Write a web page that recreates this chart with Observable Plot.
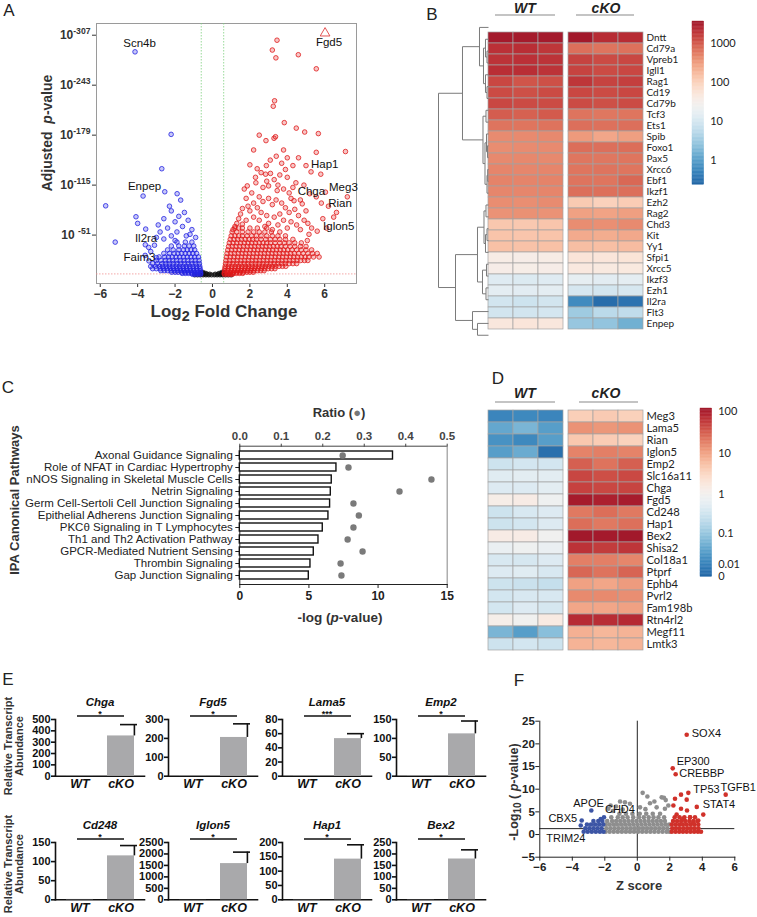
<!DOCTYPE html>
<html><head><meta charset="utf-8">
<script src="https://cdn.jsdelivr.net/npm/d3@7"></script>
<script src="https://cdn.jsdelivr.net/npm/@observablehq/plot@0.6"></script>
<style>
body{margin:0;background:#fff;}
#root{position:relative;width:757px;height:917px;overflow:hidden;font-family:"Liberation Sans",Arial,sans-serif;color:#222;background:#fff;}
.lbl{position:absolute;white-space:nowrap;line-height:1;}
.eplot line,.eplot path{stroke-width:1.6px;}
</style></head><body><div id="root"></div>
<script>
// ================= DATA =================
// Panel A: volcano plot (x = log2 fold change, y = -log10 adjusted p)
const volcanoXTicks = [-6,-4,-2,0,2,4,6];
const volcanoYTicks = [51,115,179,243,307];
const volcanoUpRows = [
 [0.8,[0.64,0.8,0.95,1.07]],
 [2,[0.63,0.78,0.93,1.1,1.28,1.45,1.62]],
 [3.5,[0.64,0.8,0.96,1.14,1.3,1.48,1.66,1.84,2.0,2.18]],
 [5.5,[0.65,0.82,1.0,1.17,1.35,1.52,1.7,1.88,2.05,2.22,2.4,2.58,2.76]],
 [8,[0.66,0.84,1.02,1.2,1.38,1.55,1.73,1.9,2.08,2.26,2.44,2.62,2.8,2.98,3.16,3.34]],
 [11,[0.68,0.86,1.04,1.22,1.4,1.58,1.76,1.94,2.12,2.3,2.48,2.66,2.84,3.02,3.2,3.38,3.56,3.74,3.92]],
 [14.5,[0.7,0.9,1.1,1.3,1.5,1.7,1.9,2.1,2.3,2.5,2.7,2.9,3.1,3.3,3.5,3.7,3.9,4.1,4.3,4.5]],
 [18.5,[0.72,0.92,1.12,1.32,1.52,1.72,1.92,2.12,2.32,2.52,2.72,2.92,3.12,3.32,3.52,3.72,3.92,4.12,4.32,4.52,4.72,4.92,5.1]],
 [23,[0.75,0.95,1.15,1.35,1.55,1.75,1.95,2.15,2.35,2.55,2.75,2.95,3.15,3.35,3.55,3.75,3.95,4.15,4.35,4.55,4.75,4.95,5.15,5.4,5.7]],
 [27.5,[0.78,0.98,1.18,1.38,1.58,1.78,1.98,2.18,2.38,2.58,2.78,2.98,3.18,3.38,3.58,3.78,3.98,4.18,4.38,4.6,4.85,5.1,5.35,5.6]],
 [32,[0.82,1.02,1.22,1.42,1.62,1.82,2.02,2.22,2.42,2.62,2.82,3.02,3.22,3.42,3.62,3.82,4.02,4.25,4.5,4.75,5.0,5.3]],
 [36.5,[0.86,1.06,1.26,1.46,1.66,1.86,2.06,2.26,2.46,2.66,2.86,3.06,3.26,3.46,3.66,3.9,4.15,4.4,4.7,5.0]],
 [41,[0.9,1.1,1.3,1.5,1.7,1.9,2.1,2.3,2.5,2.7,2.9,3.1,3.35,3.6,3.85,4.1,4.4,4.75]],
 [45.5,[0.95,1.15,1.35,1.55,1.75,1.95,2.15,2.35,2.6,2.85,3.1,3.35,3.6,3.9,4.3]],
 [50,[1.0,1.2,1.4,1.6,1.85,2.1,2.35,2.6,2.9,3.2,3.5,3.9]],
 [55,[1.05,1.3,1.6,1.9,2.2,2.5,2.8,3.15,3.6]],
 [60,[1.2,1.6,2.0,2.4,2.9]]
];
const volcanoUpScatter = [[3.45,300.6],[3.2,288],[4.59,282],[3.39,278],[5.55,264],[3.32,223],[3.25,216],[3.84,195],[4.48,188],[4.93,183],[5.66,181],[2.5,179],[3.37,177],[3.29,175],[2.86,172],[5.55,157],[7.11,158],[3.41,152],[3.09,147],[3.7,143],[2.0,141],[2.88,140],[2.39,136],[5.27,132],[5.79,129],[2.84,129],[4.0,125],[2.32,118],[1.86,114],[4.89,115],[4.46,118],[3.0,114],[3.46,108],[6.04,106],[7.21,100],[5.55,100],[4.36,95],[4.8,91],[5.82,92],[6.63,80],[6.48,74],[5.16,52],[5.07,44],
 [1.7,110],[1.8,98],[2.1,105],[2.3,125],[2.6,131],[2.7,112],[2.9,120],[3.1,130],[3.3,122],[3.5,115],[3.6,128],[3.8,110],[4.1,105],[4.3,112],[4.2,98],[2.5,100],[2.2,92],[1.9,88],[1.6,85],[1.5,78],[1.4,72],[1.3,66],[1.2,62],[2.0,82],[2.4,86],[2.7,94],[3.0,98],[3.2,90],[3.4,96],[3.7,92],[3.9,86],[4.1,80],[4.4,84],[4.6,76],[4.9,70],[5.1,66],[5.3,60],[5.6,56],[2.6,80],[2.9,76],[3.3,74],[3.6,78],[3.8,70],[4.2,68],[4.5,64],[4.7,58],[2.2,74],[1.8,70],[1.6,65],[2.5,70],[3.0,66],[3.5,64],[4.0,60],[1.1,58],[1.4,60],[2.8,62],[3.2,58],[6.2,88],[5.9,72],[6.1,60],[5.0,82],[4.7,96],[5.2,104],[3.9,135],[4.3,140],[2.2,160],[3.8,160],[4.6,150],[5.0,140],[4.0,150]];
const volcanoDownRows = [
 [0.8,[-1.07,-0.95,-0.8,-0.64]],
 [2,[-1.62,-1.45,-1.28,-1.1,-0.93,-0.78,-0.63]],
 [3.5,[-2.18,-2.0,-1.84,-1.66,-1.48,-1.3,-1.14,-0.96,-0.8,-0.64]],
 [5.5,[-2.76,-2.58,-2.4,-2.22,-2.05,-1.88,-1.7,-1.52,-1.35,-1.17,-1.0,-0.82,-0.65]],
 [8,[-3.2,-3.0,-2.8,-2.62,-2.44,-2.26,-2.08,-1.9,-1.73,-1.55,-1.38,-1.2,-1.02,-0.84,-0.66]],
 [11,[-3.3,-3.05,-2.84,-2.66,-2.48,-2.3,-2.12,-1.94,-1.76,-1.58,-1.4,-1.22,-1.04,-0.86,-0.68]],
 [14.5,[-3.2,-2.95,-2.7,-2.5,-2.3,-2.1,-1.9,-1.7,-1.5,-1.3,-1.1,-0.9,-0.7]],
 [18.5,[-3.0,-2.75,-2.52,-2.32,-2.12,-1.92,-1.72,-1.52,-1.32,-1.12,-0.92,-0.72]],
 [23,[-2.85,-2.55,-2.35,-2.15,-1.95,-1.75,-1.55,-1.35,-1.15,-0.95,-0.75]],
 [27.5,[-2.6,-2.3,-2.05,-1.85,-1.65,-1.45,-1.25,-1.05,-0.85]],
 [32,[-2.4,-2.1,-1.8,-1.55,-1.35,-1.15,-0.95]],
 [37,[-2.2,-1.8,-1.5,-1.25,-1.0]],
 [42,[-1.9,-1.45,-1.1]]
];
const volcanoDownScatter = [[-4.14,285.7],[-2.21,180],[-2.71,136],[-3.71,101],[-2.55,106.5],[-1.89,104],[-1.7,95.8],[-5.71,88.5],[-4.09,74.5],[-4.0,66],[-3.57,58.7],[-5.2,42],[-3.59,38.6],[-3.41,35.2],[-2.3,88],[-2.2,82],[-1.5,80],[-1.8,75],[-2.6,72],[-2.9,64],[-1.3,70],[-2.0,68],[-1.6,62],[-2.4,60],[-1.1,58],[-2.8,55],[-1.9,55],[-3.0,48],[-1.4,50],[-2.2,50],[-2.6,46],[-3.3,30],[-3.6,25],[-3.1,38],[-1.2,52],[-0.9,48],[-2.0,44],[-3.0,22],[-3.4,18]];
const volcanoNsRows = [
 [0,[-0.95,-0.8,-0.65,-0.5,-0.35,-0.2,-0.05,0.1,0.25,0.4,0.55,0.7,0.85,1.0]],
 [1,[-0.6,-0.45,-0.3,-0.15,0.15,0.3,0.45,0.6]],
 [2,[-0.6,-0.48,-0.36,0.36,0.48,0.6]],
 [3.2,[-0.6,-0.5,0.5,0.6]]
];
const volcanoTop = [[6.02,309.6]];
const volcanoLabels = [["Scn4b",-3.9,297],["Fgd5",6.23,298],["Hap1",6.0,141.4],["Chga",5.29,107.7],["Meg3",7.0,112.8],["Rian",6.82,91.4],["Iglon5",6.75,62.5],["Enpep",-3.63,113.2],["Il2ra",-3.55,47.2],["Faim3",-3.9,22]];

// Panel B: heatmap (WT x3, cKO x3)
const genesB = ["Dntt","Cd79a","Vpreb1","Igll1","Rag1","Cd19","Cd79b","Tcf3","Ets1","Spib","Foxo1","Pax5","Xrcc6","Ebf1","Ikzf1","Ezh2","Rag2","Chd3","Kit","Yy1","Sfpi1","Xrcc5","Ikzf3","Ezh1","Il2ra","Flt3","Enpep"];
const exprB_WT = [[3500,3400,3500],[2100,2200,1900],[2000,2100,2000],[2200,2200,2000],[1400,1100,1200],[1300,1200,1300],[1400,1300,1300],[950,900,1000],[650,640,660],[430,440,450],[420,430,440],[450,460,450],[480,470,480],[500,490,500],[470,470,480],[420,410,430],[380,390,380],[130,125,135],[140,135,140],[150,145,150],[38,36,38],[36,35,36],[13,12,13],[15,14,15],[9,8,9],[9,9,9.5],[48,52,48]];
const exprB_KO = [[3600,2300,2300],[700,650,680],[1500,1300,1400],[1500,1300,1400],[1900,1500,1600],[1400,1300,1400],[1300,1200,1300],[650,620,640],[700,680,700],[330,260,300],[720,700,720],[630,620,640],[640,650,640],[650,640,800],[700,690,700],[120,100,115],[290,280,300],[420,400,440],[240,230,250],[160,155,165],[55,52,56],[46,44,45],[16,14,15],[10,9,10],[0.6,0.28,0.33],[3.2,5.5,6],[2.8,2.6,1.5]];
const legendB_Ticks = [1,10,100,1000];
// dendrogram: [height, left, right]
const dendroB = [50,
  [26,
    [9,"Dntt",[5,[3,"Cd79a",[1.5,"Vpreb1","Igll1"]],[3,"Rag1",[1.5,"Cd19","Cd79b"]]]],
    [5.5,[2.5,"Tcf3","Ets1"],[3.5,[2,"Spib",[1,"Foxo1","Pax5"]],[1.5,[0.8,"Xrcc6","Ebf1"],"Ikzf1"]]]],
  [33,
    [11,[4.5,[2.5,"Ezh2","Rag2"],[3,[1.5,"Chd3","Kit"],"Yy1"]],[6,[2,"Sfpi1","Xrcc5"],[2.5,"Ikzf3","Ezh1"]]],
    [16,"Il2ra",[11,"Flt3","Enpep"]]]];

// Panel C: IPA canonical pathways
const pathways = ["Axonal Guidance Signaling","Role of NFAT in Cardiac Hypertrophy","nNOS Signaling in Skeletal Muscle Cells","Netrin Signaling","Germ Cell-Sertoli Cell Junction Signaling","Epithelial Adherens Junction Signaling","PKCθ Signaling in T Lymphocytes","Th1 and Th2 Activation Pathway","GPCR-Mediated Nutrient Sensing","Thrombin Signaling","Gap Junction Signaling"];
const pathwayNegLogP = [11.08,6.99,6.65,6.58,6.53,6.41,6.0,5.69,5.35,5.11,4.99];
const pathwayRatio = [0.248,0.262,0.462,0.385,0.274,0.287,0.274,0.26,0.296,0.243,0.245];
const pathwayPTicks = [0,5,10,15];
const pathwayRatioTicks = [0,0.1,0.2,0.3,0.4,0.5];

// Panel D: heatmap
const genesD = ["Meg3","Lama5","Rian","Iglon5","Emp2","Slc16a11","Chga","Fgd5","Cd248","Hap1","Bex2","Shisa2","Col18a1","Ptprf","Ephb4","Pvrl2","Fam198b","Rtn4rl2","Megf11","Lmtk3"];
const exprD_WT = [[0.012,0.014,0.012],[0.04,0.06,0.03],[0.02,0.014,0.03],[0.03,0.045,0.003],[0.3,0.35,0.35],[0.5,0.55,0.55],[0.45,0.45,0.55],[1.3,1.4,0.8],[0.3,0.4,0.45],[0.3,0.35,0.45],[1.4,1.4,0.9],[0.7,0.8,0.7],[0.4,0.38,0.45],[0.45,0.5,0.4],[0.3,0.28,0.25],[0.35,0.4,0.4],[0.35,0.45,0.38],[1.2,0.9,1.5],[0.06,0.03,0.08],[0.3,0.35,0.3]];
const exprD_KO = [[3.8,4.2,3.6],[13,12,13],[4.5,4,3.5],[17,18,17],[30,22,30],[46,40,44],[50,45,48],[107,95,105],[20,24,20],[24,20,23],[115,110,115],[66,55,62],[18,18,16],[27,22,28],[10,9,11],[15,15,14],[9,9,10],[75,72,78],[7.4,6.5,7],[7,6.5,7]];
const legendD_Ticks = [0,0.01,0.1,1,10,100];

// Panel E: qPCR bars
const eGenes = ["Chga","Fgd5","Lama5","Emp2","Cd248","Iglon5","Hap1","Bex2"];
const eWT = [1,1,0.4,0.8,1,5,0.8,1];
const eKO = [355,205,53,112,115,1580,142,178];
const eKOerr = [100,72,7,34,27,500,50,40];
const eSig = ["*","*","***","*","*","*","*","*"];
const eTicks = [[0,100,200,300,400,500],[0,100,200,300],[0,20,40,60,80],[0,50,100,150],[0,50,100,150],[0,500,1000,1500,2000,2500],[0,50,100,150,200],[0,50,100,150,200,250]];

// Panel F: upstream regulators
const fXTicks = [-6,-4,-2,0,2,4,6];
const fYTicks = [-5,0,5,10,15,20,25];
const fGrayRows = [
 [0.6,[-1.95,-1.7,-1.45,-1.2,-0.95,-0.7,-0.45,-0.2,0.05,0.3,0.55,0.8,1.05,1.3,1.55,1.8,1.98]],
 [1.4,[-1.9,-1.65,-1.4,-1.15,-0.9,-0.65,-0.4,-0.15,0.1,0.35,0.6,0.85,1.1,1.35,1.6,1.85]],
 [2.2,[-1.95,-1.72,-1.48,-1.25,-1.0,-0.75,-0.5,-0.25,0.0,0.25,0.5,0.75,1.0,1.25,1.5,1.75,1.97]],
 [3.0,[-1.85,-1.55,-1.3,-1.05,-0.8,-0.55,-0.3,-0.05,0.2,0.45,0.7,0.95,1.2,1.45,1.7]],
 [3.8,[-1.6,-1.2,-0.9,-0.6,-0.25,0.1,0.4,0.7,1.0,1.3,1.65]],
 [4.6,[-1.1,-0.7,-0.3,0.15,0.55,0.95,1.4]]
];
const fGrayScatter = [[0.33,9.2],[0.62,8.4],[-1.06,7.3],[-0.76,7.1],[-1.64,6.4],[1.5,8.2],[1.64,8.1],[1.05,7.3],[1.7,5.7],[0.78,6.9],[0.17,6.0],[-0.45,6.8],[-1.31,6.2],[-1.78,5.7],[1.19,6.0],[1.91,6.4],[-0.9,5.5],[0.5,5.6],[-1.5,5.2],[1.75,7.6]];
const fRedRows = [
 [0.6,[2.12,2.35,2.58,2.81,3.04,3.27,3.5,3.73,3.92]],
 [1.4,[2.15,2.38,2.61,2.84,3.07,3.3,3.53,3.76]],
 [2.2,[2.12,2.35,2.58,2.81,3.04,3.27,3.5,3.75]],
 [3.0,[2.2,2.45,2.7,2.95,3.2,3.45,3.7]],
 [3.8,[2.3,2.6,2.9,3.25,3.55]]
];
const fRedScatter = [[3.04,22.0],[2.18,14.6],[2.36,13.3],[3.14,9.2],[5.44,8.8],[3.66,6.1],[2.32,7.9],[2.69,8.8],[3.04,7.7],[2.69,5.7],[3.06,5.3],[2.42,4.4],[3.24,3.8],[4.06,4.4],[2.83,3.5],[3.75,3.1],[2.22,6.4],[3.45,2.7]];
const fBlueRows = [
 [0.6,[-3.3,-3.05,-2.8,-2.55,-2.3,-2.08]],
 [1.4,[-3.2,-2.95,-2.7,-2.45,-2.2]],
 [2.2,[-3.1,-2.85,-2.6,-2.35,-2.1]],
 [3.0,[-2.7,-2.4,-2.15]]
];
const fBlueScatter = [[-2.83,5.3],[-2.05,3.8],[-3.42,3.1],[-3.48,2.0],[-2.25,3.4]];
const fLabels = [["SOX4",3.35,22.35],["EP300",2.42,16.1],["CREBBP",2.58,13.5],["TP53",3.45,9.9],["TGFB1",5.12,10.4],["STAT4",4.02,6.55],["APOE",-3.94,6.77],["CHD4",-1.99,5.5],["CBX5",-5.47,3.46],["TRIM24",-5.6,-0.95]];

// ================= HELPERS =================
const root = document.getElementById("root");
const FONT = '"Liberation Sans", Arial, sans-serif';
const toPts = rows => rows.flatMap(([y, xs]) => xs.map(x => ({x, y})));
const pairs = arr => arr.map(([x, y]) => ({x, y}));
function place(el, x, y) { el.style.position = "absolute"; el.style.left = x + "px"; el.style.top = y + "px"; root.appendChild(el); return el; }
function label(html, x, y, css = "", rotate = 0, anchor = "middle") {
  const d = document.createElement("div");
  d.className = "lbl"; d.innerHTML = html;
  d.style.cssText += `left:${x}px;top:${y}px;` + css;
  const tx = anchor === "middle" ? "-50%" : anchor === "start" ? "0" : "-100%";
  d.style.transform = `translate(${tx},-50%)` + (rotate ? ` rotate(${rotate}deg)` : "");
  root.appendChild(d); return d;
}
const baseStyle = (size, weight = "bold", color = "#222") => ({background: "transparent", fontFamily: FONT, fontSize: size + "px", fontWeight: weight, color, overflow: "visible"});
const heatInterp = t => d3.interpolateRdBu(0.9 - 0.82 * t);

// ================= PANEL A =================
{
  const up = toPts(volcanoUpRows).concat(pairs(volcanoUpScatter));
  const down = toPts(volcanoDownRows).concat(pairs(volcanoDownScatter));
  const ns = toPts(volcanoNsRows);
  const p = Plot.plot({
    width: 380, height: 300, marginLeft: 96, marginRight: 24, marginTop: 23, marginBottom: 17,
    style: baseStyle(12, "bold", "#333"),
    x: {domain: [-6.2, 7.7], ticks: volcanoXTicks, tickSize: 4, tickPadding: 2, label: null},
    y: {domain: [-11, 322], ticks: volcanoYTicks, tickSize: 4, tickPadding: 2, tickFormat: d => "10^" + d, label: null},
    marks: [
      Plot.frame({stroke: "#9a9a9a"}),
      Plot.ruleX([-0.6, 0.6], {stroke: "#7fcf7f", strokeDasharray: "1.5,1.5", strokeWidth: 0.8}),
      Plot.ruleY([1.3], {stroke: "#f09090", strokeDasharray: "1.5,1.5", strokeWidth: 0.8}),
      Plot.dot(ns, {x: "x", y: "y", r: 2.2, stroke: "#111", fill: "#111", fillOpacity: 0.5, strokeWidth: 0.7}),
      Plot.dot(down, {x: "x", y: "y", r: 2.3, stroke: "#2323e2", fill: "#2323e2", fillOpacity: 0.25, strokeWidth: 0.8}),
      Plot.dot(up, {x: "x", y: "y", r: 2.3, stroke: "#e01b1b", fill: "#e01b1b", fillOpacity: 0.25, strokeWidth: 0.8}),
      Plot.dot(volcanoTop.map(([x, y]) => ({x, y})), {x: "x", y: "y", symbol: "triangle", r: 3.6, stroke: "#e04040", fill: "none", strokeWidth: 0.9}),
      Plot.text(volcanoLabels, {x: d => d[1], y: d => d[2], text: d => d[0], fontSize: 11.5, fontWeight: "normal", fill: "#111"})
    ]
  });
  p.querySelectorAll("text").forEach(t => {
    const s = t.textContent;
    if (s.startsWith("10^")) {
      const e = s.slice(3);
      t.textContent = "";
      const a = document.createElementNS("http://www.w3.org/2000/svg", "tspan");
      a.textContent = e === "51" ? "10 " : "10"; t.appendChild(a);
      const b = document.createElementNS("http://www.w3.org/2000/svg", "tspan");
      b.textContent = "-" + e; b.setAttribute("dy", "-0.55em"); b.setAttribute("font-size", "0.72em"); t.appendChild(b);
    }
  });
  place(p, 0, 0);
  label("A", 9, 10, "font-size:17px;");
  label("Adjusted&nbsp; <i>p</i>-value", 47, 133, "font-size:14px;font-weight:bold;color:#333;", -90);
  label("Log<sub style='font-size:0.85em;vertical-align:-0.3em'>2</sub> Fold Change", 224, 313, "font-size:17px;font-weight:bold;color:#333;");
}

// ================= HEATMAP helper =================
function cellsOf(genes, vals) { return genes.flatMap((g, i) => vals[i].map((v, j) => ({gene: g, rep: j + 1, v}))); }
function heatBlock(genes, vals, color, width, height, marginRight, labels, fs) {
  return Plot.plot({
    width, height, marginLeft: 0, marginTop: 0, marginBottom: 0, marginRight,
    style: {background: "transparent", fontFamily: "Lato, sans-serif", fontSize: fs + "px", color: "#222", overflow: "visible"},
    x: {domain: [1, 2, 3], padding: 0, axis: null},
    y: {domain: genes, padding: 0, axis: labels ? "right" : null, tickSize: 0, tickPadding: 3, label: null},
    color,
    marks: [Plot.cell(cellsOf(genes, vals), {x: "rep", y: "gene", fill: "v", stroke: "#a3a3a3", strokeWidth: 0.7})]
  });
}
function colorBar(color, stops, ticks, width, height, yOpts) {
  return Plot.plot({
    width: width + 40, height, marginLeft: 0, marginRight: 40, marginTop: 0, marginBottom: 0,
    style: {background: "transparent", fontFamily: "Lato, sans-serif", fontSize: "11px", color: "#222", overflow: "visible"},
    x: {domain: [0, 1], axis: null},
    y: Object.assign({axis: "right", ticks, tickFormat: d => String(d), tickSize: 0, tickPadding: 6, label: null}, yOpts),
    color,
    marks: [Plot.rect(stops, {x1: 0, x2: 1, y1: "a", y2: "b", fill: "m", stroke: "m", strokeWidth: 0.4})]
  });
}

// ================= PANEL B =================
{
  const colorB = {type: "log", domain: [0.23, 3800], interpolate: heatInterp};
  const top = 20.7, rowH = 11.84, h = rowH * genesB.length;
  place(heatBlock(genesB, exprB_WT, colorB, 75, h, 0, false, 10), 488, top);
  place(heatBlock(genesB, exprB_KO, colorB, 135, h, 60, true, 10), 568, top);
  // dendrogram
  const segs = [];
  function lay(node) {
    if (typeof node === "string") return {x: 0, y: genesB.indexOf(node)};
    const [hh, a, b] = node; const A = lay(a), B = lay(b);
    segs.push({x1: hh, y1: A.y, x2: A.x, y2: A.y}, {x1: hh, y1: B.y, x2: B.x, y2: B.y}, {x1: hh, y1: A.y, x2: hh, y2: B.y});
    return {x: hh, y: (A.y + B.y) / 2};
  }
  lay(dendroB);
  place(Plot.plot({
    width: 54, height: h, margin: 0, style: {background: "transparent", overflow: "visible"},
    x: {domain: [54, 0], axis: null}, y: {domain: [genesB.length - 0.5, -0.5], axis: null},
    marks: [Plot.link(segs, {x1: "x1", y1: "y1", x2: "x2", y2: "y2", stroke: "#7a7a7a", strokeWidth: 1})]
  }), 434, top);
  // legend
  const lo = 0.23, hi = 3800;
  const stops = d3.range(120).map(i => { const a = lo * Math.pow(hi / lo, i / 120), b = lo * Math.pow(hi / lo, (i + 1) / 120); return {a, b, m: Math.sqrt(a * b)}; });
  place(colorBar(colorB, stops, legendB_Ticks, 11.7, 163.3, {type: "log", domain: [lo, hi]}), 692, top);
  label("B", 432, 14, "font-size:17px;");
  label("WT", 525, 7.5, "font-size:14px;font-weight:bold;font-style:italic;");
  label("cKO", 606, 7.5, "font-size:14px;font-weight:bold;font-style:italic;");
  label("", 495, 15, "width:60px;height:0;border-top:1.3px solid #8a8a8a;", 0, "start");
  label("", 576, 15, "width:58px;height:0;border-top:1.3px solid #8a8a8a;", 0, "start");
}

// ================= PANEL C =================
{
  const data = pathways.map((name, i) => ({name, p: pathwayNegLogP[i], ratio: pathwayRatio[i]}));
  const dims = {width: 460, height: 230, marginLeft: 239.3, marginRight: 13.3, marginTop: 45.7, marginBottom: 46};
  const yBand = {domain: pathways, paddingInner: 0.35, paddingOuter: 0.35, label: null};
  const base = Plot.plot(Object.assign({}, dims, {
    style: baseStyle(12, "bold", "#222"),
    x: {domain: [0, 15], ticks: pathwayPTicks, tickSize: 4, tickPadding: 3, line: true, label: null},
    y: Object.assign({}, yBand, {tickSize: 4, tickFormat: () => "", line: true}),
    marks: [
      Plot.barX(data, {x: "p", y: "name", fill: "white", stroke: "#111", strokeWidth: 1.4}),
      Plot.text(data, {y: "name", text: "name", frameAnchor: "left", dx: -7, textAnchor: "end", fontWeight: "normal", fontSize: 11.5, fill: "#222"})
    ]
  }));
  place(base, 0, 400);
  const over = Plot.plot(Object.assign({}, dims, {
    style: baseStyle(11.5, "bold", "#444"),
    x: {domain: [0, 0.5], ticks: pathwayRatioTicks, tickFormat: d3.format(".1f"), axis: "top", tickSize: 3, tickPadding: 3, line: true, label: null},
    y: Object.assign({}, yBand, {axis: null}),
    marks: [
      Plot.ruleX([0.5], {stroke: "#9a9a9a", strokeWidth: 1.2}),
      Plot.dot(data, {x: "ratio", y: "name", r: 3.2, fill: "#7a7a7a"})
    ]
  }));
  place(over, 0, 400);
  label("C", 8, 387, "font-size:17px;");
  label("Ratio (<span style='color:#777'>●</span>)", 339, 412, "font-size:13px;font-weight:bold;color:#333;");
  label("-log (<i>p</i>-value)", 340, 617.5, "font-size:13.5px;font-weight:bold;color:#333;");
  label("IPA Canonical Pathways", 14, 500, "font-size:13px;font-weight:bold;color:#333;", -90);
}

// ================= PANEL D =================
{
  const C = 0.01, hiD = 120;
  const colorD = {type: "symlog", constant: C, domain: [0, hiD], interpolate: heatInterp};
  const top = 408.3, rowH = 12.16, h = rowH * genesD.length;
  place(heatBlock(genesD, exprD_WT, colorD, 75, h, 0, false, 11.2), 488, top);
  place(heatBlock(genesD, exprD_KO, colorD, 135, h, 60, true, 11.2), 568, top);
  const F = Math.log1p(hiD / C);
  const stops = d3.range(120).map(i => { const a = C * Math.expm1(F * i / 120), b = C * Math.expm1(F * (i + 1) / 120), m = C * Math.expm1(F * (i + 0.5) / 120); return {a, b, m}; });
  place(colorBar(colorD, stops, legendD_Ticks, 11.7, 168.4, {type: "symlog", constant: C, domain: [0, hiD]}), 700, top);
  label("D", 498, 378, "font-size:17px;");
  label("WT", 525, 393, "font-size:14px;font-weight:bold;font-style:italic;");
  label("cKO", 606, 393, "font-size:14px;font-weight:bold;font-style:italic;");
  label("", 495, 401.7, "width:60px;height:0;border-top:1.3px solid #8a8a8a;", 0, "start");
  label("", 579, 401.7, "width:59px;height:0;border-top:1.3px solid #8a8a8a;", 0, "start");
}

// ================= PANEL E =================
{
  const axisX = [55, 168, 282, 396];
  const rowTop = [719.3, 841.7], rowBase = [776, 899];
  eGenes.forEach((g, i) => {
    const row = Math.floor(i / 4), col = i % 4;
    const ax = axisX[col], fh = rowBase[row] - rowTop[row];
    const ticks = eTicks[i], ymax = ticks[ticks.length - 1];
    const bars = [{g: "WT", v: eWT[i]}, {g: "cKO", v: eKO[i]}];
    const err = [{g: "cKO", v: eKO[i], top: eKO[i] + eKOerr[i]}];
    const p = Plot.plot({
      width: 137, height: fh + 50, marginLeft: 42, marginRight: 6, marginTop: 30, marginBottom: 20,
      style: baseStyle(11, "bold", "#111"),
      x: {domain: ["WT", "cKO"], paddingInner: 0.35, paddingOuter: 0.25, tickSize: 0, tickPadding: 3, line: true, label: null},
      y: {domain: [0, ymax], ticks, tickFormat: d => String(d), tickSize: 4, tickPadding: 1, line: true, label: null},
      marks: [
        Plot.barY(bars, {x: "g", y: "v", fill: "#a9a9ab"}),
        Plot.ruleX(err, {x: "g", y1: "v", y2: "top", dx: 13.4, stroke: "#111"}),
        Plot.tickY(err, {x: "g", y: "top", dx: 8, insetLeft: 5, insetRight: 5, stroke: "#111"}),
        Plot.ruleY([ymax], {dy: -3.5, insetLeft: 22, insetRight: 20, stroke: "#111"}),
        Plot.text([eSig[i]], {y: () => ymax, text: d => d, dy: -5.5, fontSize: 9}),
        Plot.text([g], {text: d => d, frameAnchor: "top", dy: -22, fontStyle: "italic", fontSize: 11.5})
      ]
    });
    p.classList.add("eplot");
    p.querySelectorAll("text").forEach(t => { if (t.textContent === "WT" || t.textContent === "cKO") { t.setAttribute("font-style", "italic"); t.setAttribute("font-size", "12.5"); } });
    place(p, ax - 42, rowTop[row] - 30);
  });
  label("E", 8, 679, "font-size:17px;");
  label("Relative Transcript<br>Abundance", 14, 746, "font-size:11px;font-weight:bold;color:#333;text-align:center;", -90);
  label("Relative Transcript<br>Abundance", 14, 864, "font-size:11px;font-weight:bold;color:#333;text-align:center;", -90);
}

// ================= PANEL F =================
{
  const gray = toPts(fGrayRows).concat(pairs(fGrayScatter));
  const red = toPts(fRedRows).concat(pairs(fRedScatter));
  const blue = toPts(fBlueRows).concat(pairs(fBlueScatter));
  const p = Plot.plot({
    width: 267, height: 200, marginLeft: 49.3, marginRight: 22.7, marginTop: 20.7, marginBottom: 43.3,
    style: baseStyle(11.5, "bold", "#222"),
    x: {domain: [-6, 6], ticks: fXTicks, tickSize: 4, tickPadding: 2, line: true, label: null},
    y: {domain: [-5, 25], ticks: fYTicks, tickSize: 4, tickPadding: 1, line: true, label: null},
    marks: [
      Plot.ruleX([0], {stroke: "#222", strokeWidth: 1}),
      Plot.ruleY([1.3], {stroke: "#222", strokeWidth: 1}),
      Plot.dot(gray, {x: "x", y: "y", r: 2.3, fill: "#8e8e8e"}),
      Plot.dot(blue, {x: "x", y: "y", r: 2.3, fill: "#3c55a5"}),
      Plot.dot(red, {x: "x", y: "y", r: 2.3, fill: "#d0312a"}),
      Plot.text(fLabels, {x: d => d[1], y: d => d[2], text: d => d[0], textAnchor: "start", fontWeight: "normal", fontSize: 11, fill: "#111"})
    ]
  });
  place(p, 490, 700);
  label("F", 519, 680, "font-size:17px;");
  label("-Log<sub style='font-size:0.8em;vertical-align:-0.3em'>10</sub> ( <i>p</i>-value)", 515, 792, "font-size:12.5px;font-weight:bold;color:#333;", -90);
  label("Z score", 639, 885, "font-size:13px;font-weight:bold;color:#333;");
}
</script></body></html>
